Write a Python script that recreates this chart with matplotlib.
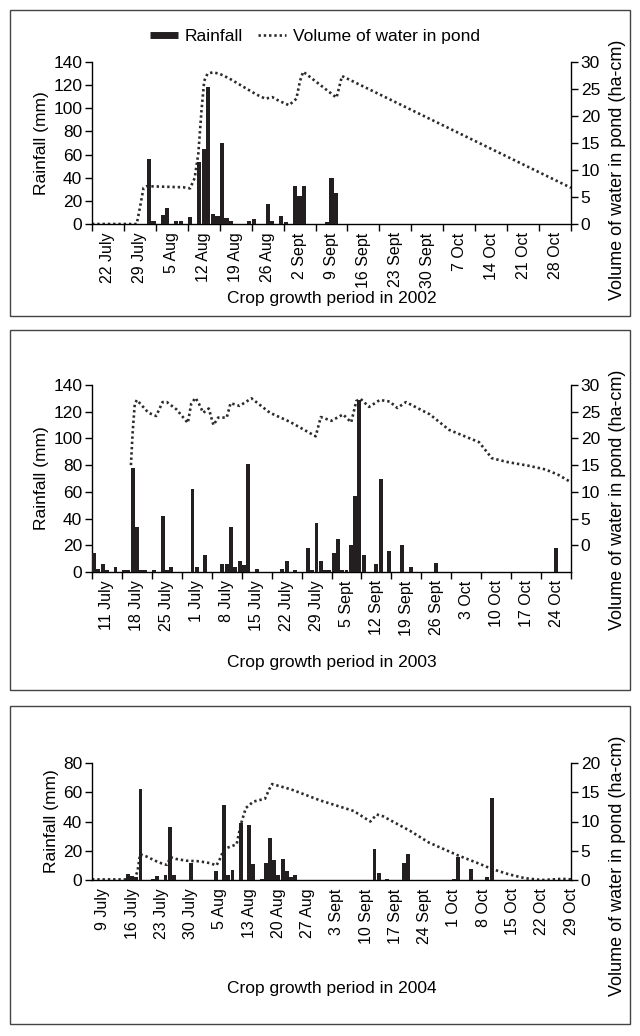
import matplotlib
matplotlib.use("Agg")
import matplotlib.pyplot as plt
from matplotlib.lines import Line2D
from matplotlib.patches import Rectangle
import numpy as np

plt.rcParams['font.family'] = ['Liberation Sans', 'DejaVu Sans']

# ---------------- 2002 ----------------
labels_2002 = ['22 July', '29 July', '5 Aug', '12 Aug', '19 Aug', '26 Aug', '2 Sept',
               '9 Sept', '16 Sept', '23 Sept', '30 Sept', '7 Oct', '14 Oct', '21 Oct', '28 Oct']
rain_day_2002 = [12, 13, 15, 16, 18, 19, 21, 23, 24, 25, 26, 27, 28, 29, 30, 34, 35, 38, 39,
                 41, 42, 44, 45, 46, 51, 52, 53]
rain_mm_2002 = [56, 3, 7.5, 14, 3, 2.5, 6, 54, 65, 118, 8.5, 6.5, 70, 5.5, 3, 2.5, 4, 17.5, 3,
                7, 1.5, 33, 24.5, 33, 1.5, 40, 27]
vol_day_2002 = [0, 9.8, 10.5, 11.3, 12, 16, 20, 21.5, 22.5, 23.3, 24, 24.6, 25.3, 26.5, 28,
                30, 33, 36, 38, 39.5, 41, 43.2, 44.8, 45.6, 46.3, 53.6, 54.8, 105]
vol_2002 = [0, 0, 3, 6.7, 7, 6.9, 6.8, 6.6, 8.5, 13, 21, 26.5, 27.8, 28.1, 27.8,
            27, 25.5, 24, 23.2, 23.5, 22.8, 22, 23.2, 26.5, 28.2, 23.4, 27.4, 6.7]

# ---------------- 2003 ----------------
labels_2003 = ['11 July', '18 July', '25 July', '1 July', '8 July', '15 July', '22 July',
               '29 July', '5 Sept', '12 Sept', '19 Sept', '26 Sept', '3 Oct', '10 Oct',
               '17 Oct', '24 Oct']
rain_day_2003 = [0, 1, 2, 3, 5, 7, 8, 9, 10, 11, 12, 14, 16, 17, 18, 23, 24, 26, 30, 31, 32,
                 33, 34, 35, 36, 38, 44, 45, 47, 50, 51, 52, 53, 54, 55, 56, 57, 58, 59, 60,
                 61, 62, 63, 66, 67, 69, 72, 74, 80, 108]
rain_mm_2003 = [14, 2, 5.7, 1.2, 3.5, 1.2, 1.2, 78, 34, 1.8, 1.8, 1.8, 42, 1.8, 3.5, 62, 3.5,
                12.5, 5.7, 5.7, 33.5, 3.5, 8, 5, 81, 2.5, 2.5, 8, 1.2, 17.7, 1.2, 36.5, 8,
                1.8, 1.8, 14, 25, 1.8, 1.8, 20, 56.7, 129, 12.5, 5.7, 69.5, 15.5, 20, 3.5,
                6.4, 18]
vol_day_2003 = [9.1, 9.5, 10.0, 10.5, 11.5, 13.2, 15.0, 16.5, 17.5, 19.8, 22.4, 23.2, 24.2,
                25.0, 26.0, 27.3, 28.4, 29.5, 31.5, 32.4, 34.5, 37.3, 41.6, 46.3, 49.4, 52.3,
                53.5, 56.0, 58.7, 60.6, 61.8, 62.8, 64.8, 67.3, 69.6, 71.4, 73.4, 79, 83.5,
                90.5, 93.5, 97, 102, 106, 109, 112]
vol_2003 = [15, 21, 26.5, 27.2, 26.3, 24.8, 24.2, 26.8, 26.8, 25.4, 22.9, 26.5, 27.6,
            26.5, 24.8, 25.6, 22.5, 23.9, 23.9, 26.6, 26.1, 27.5, 24.8, 23.1, 21.7, 20.4,
            24.0, 23.3, 24.5, 23.0, 27.0, 27.4, 25.9, 27.2, 26.9, 25.7, 26.8, 24.5, 21.6,
            19.3, 16.3, 15.6, 14.9, 14.2, 13.2, 11.8]

# ---------------- 2004 ----------------
labels_2004 = ['9 July', '16 July', '23 July', '30 July', '5 Aug', '13 Aug', '20 Aug',
               '27 Aug', '3 Sept', '10 Sept', '17 Sept', '24 Sept', '1 Oct', '8 Oct',
               '15 Oct', '22 Oct', '29 Oct']
rain_day_2004 = [6, 7, 8, 9, 12, 13, 15, 16, 17, 21, 27, 29, 30, 31, 33, 35, 36, 38, 39, 40,
                 41, 42, 43, 44, 45, 46, 65, 66, 68, 72, 73, 84, 85, 88, 92, 93]
rain_mm_2004 = [4, 2.5, 2.2, 62, 1, 2.4, 3.6, 36.5, 3.5, 11.5, 6, 51, 3.6, 7, 39, 37.5, 11,
                1, 11.5, 29, 13.8, 3.6, 14.5, 6.2, 1.8, 3.3, 21, 5, 1, 11.3, 18, 1, 16, 7.6,
                2.2, 56]
vol_day_2004 = [-2.6, 7.5, 8.3, 8.9, 10.5, 12.5, 14.5, 15.3, 16.2, 17.5, 20, 23, 25.5, 27.2,
                28.0, 29.0, 32.0, 33.0, 34.2, 36.0, 38.8, 39.8, 40.5, 45, 52, 60, 64.0, 65.5,
                67, 73.5, 78, 85, 90, 93, 97, 101, 105, 110, 112]
vol_2004 = [0.1, 0.1, 1.5, 4.4, 4.0, 3.3, 2.7, 2.6, 3.9, 3.6, 3.3, 3.2, 2.9, 2.5,
            3.6, 5.3, 6.1, 9.5, 12.3, 13.4, 13.9, 15.5, 16.4, 15.5, 13.6, 11.8, 10.0, 11.2,
            10.9, 8.4, 6.4, 4.2, 2.8, 1.9, 1.0, 0.3, 0.0, 0.2, 0.1]

BAR = '#231f20'
LINE = '#2b2b2b'
DOT = (0, (0.9, 1.1))
FS = 12.5      # axis titles, y ticks, legend
FS_X = 11.5    # rotated date labels

W, H = 640, 1036
fig = plt.figure(figsize=(W / 100, H / 100), dpi=100)


def box(x0, y0, x1, y1):
    return [x0 / W, 1 - y1 / H, (x1 - x0) / W, (y1 - y0) / H]


def frame(y0, y1):
    fig.add_artist(Rectangle((10 / W, 1 - y1 / H), 620 / W, (y1 - y0) / H,
                             transform=fig.transFigure, fill=False, lw=1.0,
                             edgecolor='#444444'))


def panel(y0, y1, title, ty, right_label_y, labels, rday, rmm, vday, vol, ylim, yticks,
          vlim, vticks, xlim, ticks_between):
    ax = fig.add_axes(box(92, y0, 571, y1))
    ax2 = ax.twinx()
    ax.set_zorder(ax2.get_zorder() + 1)
    ax.patch.set_visible(False)
    off = 0.5 if ticks_between else 0.0
    ax.bar(np.array(rday) + off, rmm, width=0.92, color=BAR, linewidth=0, zorder=3)
    ax.set_ylim(*ylim)
    ax.set_yticks(yticks)
    ax.set_xlim(*xlim)
    ax2.plot(vday, vol, color=LINE, lw=1.9, linestyle=DOT, dash_capstyle='butt')
    ax2.set_ylim(*vlim)
    ax2.set_yticks(vticks)
    n = len(labels)
    if ticks_between:
        ax.set_xticks([7 * k for k in range(n + 1)])
        ax.set_xticklabels([])
        ax.set_xticks([7 * k + 3.5 for k in range(n)], minor=True)
        ax.set_xticklabels(labels, minor=True, rotation=90)
        ax.tick_params(axis='x', which='major', length=5, width=1, direction='out')
        ax.tick_params(axis='x', which='minor', length=0, labelsize=FS_X, pad=6)
    else:
        ax.set_xticks([7 * k for k in range(n)])
        ax.set_xticklabels(labels, rotation=90)
        ax.tick_params(axis='x', which='major', length=0, labelsize=FS_X, pad=6)
    for a in (ax, ax2):
        a.spines['top'].set_visible(False)
        for s in ('left', 'right', 'bottom'):
            a.spines[s].set_linewidth(1.0)
    ax.spines['right'].set_visible(False)
    ax2.spines['left'].set_visible(False)
    ax2.spines['bottom'].set_visible(False)
    ax.tick_params(axis='y', length=5, width=1, labelsize=FS, pad=2)
    ax2.tick_params(axis='y', length=5, width=1, labelsize=FS, pad=2)
    ax.set_ylabel('Rainfall (mm)', fontsize=FS, labelpad=3)
    ax2.set_ylabel('Volume of water in pond (ha-cm)', fontsize=13)
    # right-hand title sits a little below the plot centre
    ax2.yaxis.set_label_coords(1 + (609 - 571) / (571 - 92),
                               (y1 - right_label_y) / (y1 - y0))
    fig.text(0.5 * (92 + 571) / W, 1 - ty / H, title, ha='center', va='center', fontsize=FS)
    return ax, ax2


# Panel frames
frame(10, 316)
frame(330, 690)
frame(706, 1024)

panel(62, 224, 'Crop growth period in 2002', 298, 170, labels_2002, rain_day_2002,
      rain_mm_2002, vol_day_2002, vol_2002, (0, 140), range(0, 141, 20),
      (0, 30), range(0, 31, 5), (0, 105), True)
panel(385, 572, 'Crop growth period in 2003', 662, 500, labels_2003, rain_day_2003,
      rain_mm_2003, vol_day_2003, vol_2003, (0, 140), range(0, 141, 20),
      (-5, 30), range(0, 31, 5), (0, 112), True)
panel(763, 880, 'Crop growth period in 2004', 988, 866, labels_2004, rain_day_2004,
      rain_mm_2004, vol_day_2004, vol_2004, (0, 80), range(0, 81, 20),
      (0, 20), range(0, 21, 5), (-2.6, 112), False)

handles = [Line2D([0], [0], color=BAR, lw=5, solid_capstyle='butt'),
           Line2D([0], [0], color=LINE, lw=1.9, linestyle=DOT, dash_capstyle='butt')]
fig.legend(handles, ['Rainfall', 'Volume of water in pond'], loc='center',
           bbox_to_anchor=(315 / W, 1 - 36 / H), ncol=2, frameon=False, fontsize=FS,
           handlelength=1.6, handletextpad=0.4, columnspacing=0.9)

fig.savefig('out.png', dpi=100)
